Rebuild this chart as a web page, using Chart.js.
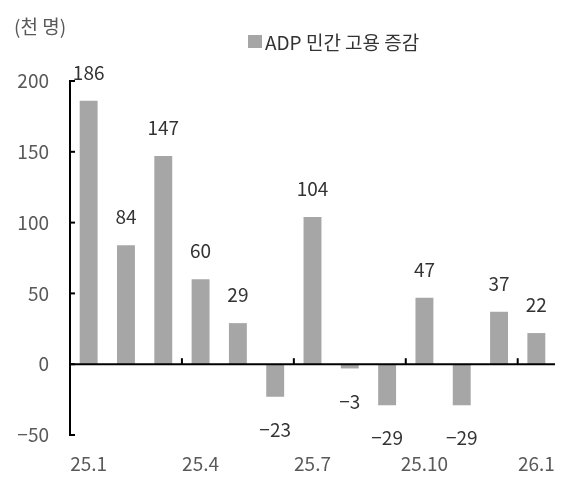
<!DOCTYPE html>
<html>
<head>
<meta charset="utf-8">
<script src="https://cdn.jsdelivr.net/npm/chart.js@4.4.1/dist/chart.umd.min.js"></script>
<style>
  html, body { margin: 0; padding: 0; background: #fff; }
  #wrap { width: 566px; height: 486px; }
</style>
</head>
<body>
<div id="wrap"><canvas id="adpChart"></canvas></div>
<script>
/*---------------------------- data ------------------------------------*/
var months = ['25.1','25.2','25.3','25.4','25.5','25.6','25.7','25.8','25.9','25.10','25.11','25.12','26.1'];
var adpChange = [186, 84, 147, 60, 29, -23, 104, -3, -29, 47, -29, 37, 22];
var yTicks = [-50, 0, 50, 100, 150, 200];

var FONT = "'Noto Sans CJK KR', 'Noto Sans', sans-serif";

/*---------------------------- extras drawn on the scales ----------------------*/
var axisExtras = {
  id: 'axisExtras',
  afterDatasetsDraw: function (chart) {
    var ctx = chart.ctx, x = chart.scales.x, y = chart.scales.y, area = chart.chartArea;
    var zero = y.getPixelForValue(0);
    ctx.save();
    ctx.strokeStyle = '#000';
    ctx.lineWidth = 2;
    // zero line
    ctx.beginPath();
    ctx.moveTo(area.left, zero);
    ctx.lineTo(area.right, zero);
    ctx.stroke();
    // y tick marks pointing inward
    yTicks.forEach(function (v) {
      var py = y.getPixelForValue(v);
      ctx.beginPath();
      ctx.moveTo(area.left, py);
      ctx.lineTo(area.left + 5, py);
      ctx.stroke();
    });
    // x tick marks every 3 months, between bars
    var half = (x.getPixelForValue(1) - x.getPixelForValue(0)) / 2;
    for (var i = 2; i < months.length - 1; i += 3) {
      var px = x.getPixelForValue(i) + half;
      ctx.beginPath();
      ctx.moveTo(px, zero);
      ctx.lineTo(px, zero - 6);
      ctx.stroke();
    }
    // value labels
    ctx.fillStyle = '#333';
    ctx.font = '19px ' + FONT;
    ctx.textAlign = 'center';
    ctx.textBaseline = 'middle';
    chart.getDatasetMeta(0).data.forEach(function (bar, i) {
      var v = adpChange[i];
      var label = v < 0 ? '\u2212' + Math.abs(v) : String(v);
      var ly = v >= 0 ? Math.min(bar.y, bar.base) - 28 : Math.max(bar.y, bar.base) + 33;
      ctx.fillText(label, bar.x, ly);
    });
    ctx.restore();
  }
};

var headerText = {
  id: 'headerText',
  afterDraw: function (chart) {
    var ctx = chart.ctx;
    ctx.save();
    ctx.font = '19px ' + FONT;
    ctx.textBaseline = 'middle';
    ctx.fillStyle = '#595959';
    ctx.fillText('(천 명)', 14, 27);
    ctx.fillStyle = '#a6a6a6';
    ctx.fillRect(248, 35, 14, 13);
    ctx.fillStyle = '#333';
    ctx.fillText('ADP 민간 고용 증감', 265, 43);
    ctx.restore();
  }
};

/*---------------------------- chart ------------------------------------*/
new Chart('adpChart', {
  type: 'bar',
  data: {
    labels: months,
    datasets: [{
      label: 'ADP 민간 고용 증감',
      data: adpChange,
      backgroundColor: '#a6a6a6',
      barPercentage: 0.48,
      categoryPercentage: 1
    }]
  },
  options: {
    responsive: true,
    maintainAspectRatio: false,
    animation: false,
    layout: { padding: { top: 81, right: 11, bottom: 0, left: 0 } },
    plugins: {
      legend: { display: false },
      tooltip: { enabled: false }
    },
    scales: {
      x: {
        afterFit: function (scale) { scale.height = 51; },
        grid: { display: false },
        border: { display: false },
        ticks: {
          autoSkip: false,
          maxRotation: 0,
          padding: 9,
          color: '#595959',
          font: { family: FONT, size: 19 },
          callback: function (val, idx) { return idx % 3 === 0 ? months[idx] : ''; }
        }
      },
      y: {
        min: -50,
        max: 200,
        afterFit: function (scale) { scale.width = 70; },
        grid: { display: false, drawTicks: false },
        border: { display: true, color: '#000', width: 2 },
        ticks: {
          stepSize: 50,
          padding: 21,
          color: '#595959',
          font: { family: FONT, size: 19 },
          callback: function (v) { return v < 0 ? '\u2212' + Math.abs(v) : v; }
        }
      }
    }
  },
  plugins: [axisExtras, headerText]
});
</script>
</body>
</html>
